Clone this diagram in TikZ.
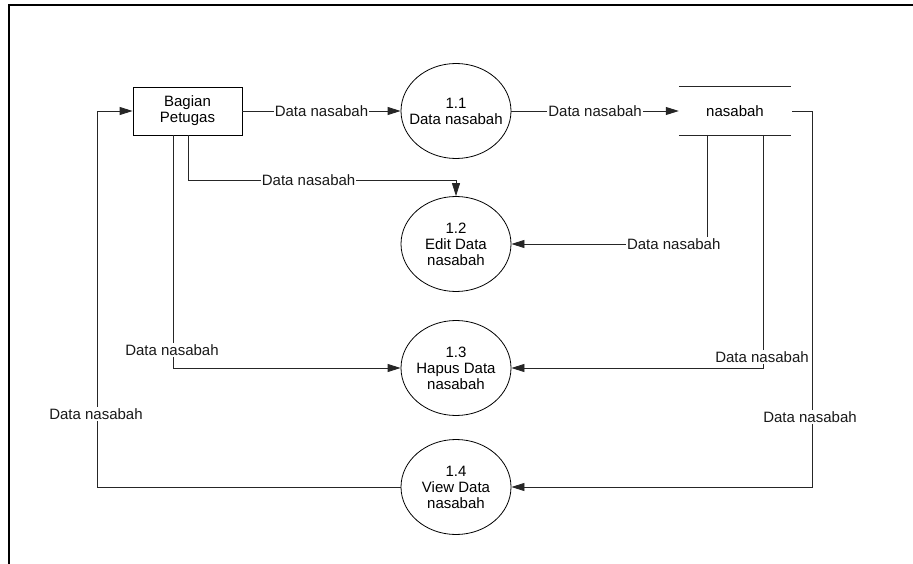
\documentclass[tikz,border=0pt]{standalone}
\usepackage{fontspec}
\setmainfont{Liberation Sans}
\usetikzlibrary{arrows.meta,shapes.geometric}
\begin{document}
\begin{tikzpicture}[x=1pt,y=-1pt,
  every node/.style={font=\fontsize{15}{16}\selectfont},
  frame/.style={line width=1.3pt,black},
  flow/.style={line width=0.8pt,black!85,-{Triangle[length=13pt,width=8pt]}},
  plain/.style={line width=0.8pt,black!85},
  lbl/.style={fill=white,inner sep=1pt,text=black!90},
  procbox/.style={draw,line width=0.8pt,minimum width=109pt,minimum height=48pt,align=center,inner sep=0pt},
  proc/.style={draw,ellipse,line width=0.8pt,minimum width=110pt,minimum height=95pt,align=center,inner xsep=-9pt,inner ysep=0pt},
  storenode/.style={minimum width=112pt,minimum height=48pt,inner sep=0pt}]
\useasboundingbox (0,0) rectangle (913,564);
\draw[frame] (9,564) -- (9,5) -- (913,5);

\node[procbox] (box) at (187.5,111) {Bagian\\Petugas};
\node[proc] (p11) at (456,111) {1.1\\Data nasabah};
\node[proc] (p12) at (456,244) {1.2\\Edit Data\\nasabah};
\node[proc] (p13) at (456,368) {1.3\\Hapus Data\\nasabah};
\node[proc] (p14) at (456,487) {1.4\\View Data\\nasabah};
\node[storenode] (store) at (735,111) {nasabah};
\draw[plain] (store.north west) -- (store.north east);
\draw[plain] (store.south west) -- (store.south east);

\coordinate (c1) at (188,180);
\coordinate (c2) at (456,180);
\coordinate (s1) at (707,135);
\coordinate (s1b) at (707,244);
\coordinate (s2) at (763,135);
\coordinate (s2b) at (763,368);
\coordinate (s3) at (792,111);
\coordinate (s3a) at (812,111);
\coordinate (s3b) at (812,487);
\coordinate (b1) at (173,135);
\coordinate (b1b) at (173,368);
\coordinate (l1) at (97,487);
\coordinate (l2) at (97,111);

\draw[flow] (box.east) -- node[lbl]{Data nasabah} (p11.west);
\draw[flow] (p11.east) -- node[lbl]{Data nasabah} (store.west);
\draw[flow] (c1 |- box.south) -- (c1) -- node[lbl,pos=0.45]{Data nasabah} (c2) -- (p12.north);
\draw[flow] (s1) -- (s1b) -- node[lbl,pos=0.17]{Data nasabah} (p12.east);
\draw[flow] (s2) -- (s2b) -- (p13.east);
\node[lbl] (lbl3) at (762,357) {Data nasabah};
\draw[flow] (s3) -- (s3a) -- (s3b) -- (p14.east);
\node[lbl] (lbl4) at (810,417) {Data nasabah};
\draw[flow] (b1) -- (b1b) -- (p13.west);
\node[lbl] (lbl5) at (172,350) {Data nasabah};
\draw[flow] (p14.west) -- (l1) -- (l2) -- (box.west);
\node[lbl] (lbl6) at (96,414) {Data nasabah};
\end{tikzpicture}
\end{document}
